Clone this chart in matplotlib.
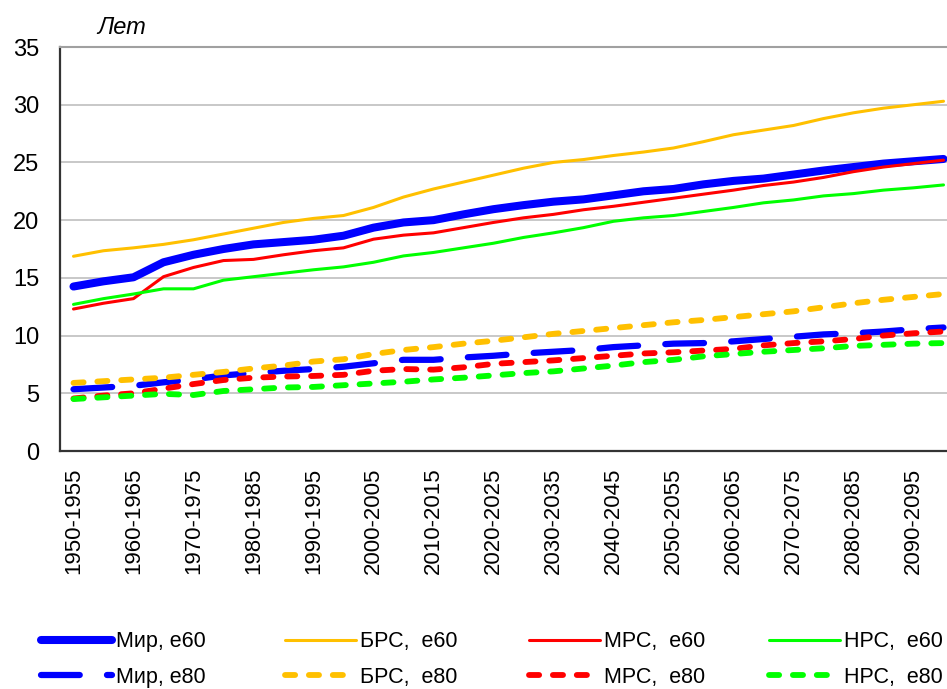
import matplotlib
matplotlib.use("Agg")
import matplotlib.pyplot as plt

plt.rcParams['font.family'] = ['Liberation Sans', 'DejaVu Sans']
plt.rcParams['lines.scale_dashes'] = False

periods = [f"{y}-{y+5}" for y in range(1950, 2100, 5)]

world_e60 = [14.25, 14.7, 15.05, 16.35, 17.0, 17.5, 17.9, 18.1, 18.3, 18.65,
             19.35, 19.8, 20.0, 20.5, 20.95, 21.3, 21.6, 21.8, 22.15, 22.5,
             22.7, 23.1, 23.4, 23.6, 23.95, 24.3, 24.6, 24.9, 25.1, 25.3]
more_e60 = [16.87, 17.35, 17.6, 17.9, 18.3, 18.8, 19.3, 19.8, 20.15, 20.4,
            21.1, 22.0, 22.7, 23.3, 23.9, 24.5, 25.0, 25.25, 25.6, 25.9,
            26.25, 26.8, 27.4, 27.8, 28.2, 28.8, 29.3, 29.7, 30.0, 30.3]
less_e60 = [12.3, 12.8, 13.2, 15.1, 15.9, 16.5, 16.6, 17.0, 17.35, 17.6,
            18.35, 18.7, 18.9, 19.35, 19.8, 20.2, 20.5, 20.9, 21.2, 21.55,
            21.9, 22.25, 22.6, 23.0, 23.3, 23.7, 24.2, 24.6, 24.9, 25.2]
least_e60 = [12.7, 13.2, 13.6, 14.05, 14.05, 14.8, 15.1, 15.4, 15.7, 15.95,
             16.35, 16.9, 17.2, 17.6, 18.0, 18.5, 18.9, 19.35, 19.9, 20.2,
             20.4, 20.75, 21.1, 21.5, 21.75, 22.1, 22.3, 22.6, 22.8, 23.05]

world_e80 = [5.35, 5.5, 5.65, 5.95, 6.2, 6.55, 6.75, 6.95, 7.1, 7.3,
             7.6, 7.9, 7.9, 8.1, 8.25, 8.45, 8.6, 8.75, 9.0, 9.15,
             9.3, 9.35, 9.5, 9.7, 9.9, 10.1, 10.2, 10.35, 10.55, 10.7]
more_e80 = [5.9, 6.05, 6.2, 6.35, 6.6, 6.85, 7.15, 7.4, 7.75, 7.95,
            8.4, 8.75, 9.0, 9.3, 9.55, 9.85, 10.15, 10.4, 10.65, 10.9,
            11.15, 11.35, 11.6, 11.85, 12.1, 12.45, 12.8, 13.1, 13.35, 13.6]
less_e80 = [4.55, 4.8, 5.0, 5.4, 5.8, 6.15, 6.35, 6.45, 6.5, 6.6,
            6.95, 7.1, 7.05, 7.25, 7.55, 7.7, 7.85, 8.05, 8.25, 8.45,
            8.55, 8.7, 8.85, 9.15, 9.35, 9.5, 9.7, 10.0, 10.2, 10.35]
least_e80 = [4.5, 4.65, 4.8, 4.95, 4.85, 5.2, 5.35, 5.5, 5.55, 5.7,
             5.85, 6.0, 6.2, 6.35, 6.55, 6.75, 6.9, 7.15, 7.4, 7.7,
             7.9, 8.2, 8.4, 8.6, 8.75, 8.9, 9.1, 9.2, 9.3, 9.35]

labels_e60 = ["Мир, е60", "БРС,  е60", "МРС,  е60", "НРС,  е60"]
labels_e80 = ["Мир, е80", "БРС,  е80", "МРС,  е80", "НРС,  е80"]
colors = ["#0000FF", "#FFC000", "#FF0000", "#00FF00"]

W, H = 947, 689
fig = plt.figure(figsize=(W / 100, H / 100), dpi=100)
L, B, T = 60, 451, 47
xmin, xmax = -0.45, 29.55
ax = fig.add_axes([L / W, (H - B) / H, 30 * (xmax - xmin) / W, (B - T) / H])

x = list(range(len(periods)))
e60 = [world_e60, more_e60, less_e60, least_e60]
e80 = [world_e80, more_e80, less_e80, least_e80]
lw60 = [5.8, 2.2, 2.2, 2.2]

h60, h80 = [], []
for i in range(4):
    ln, = ax.plot(x, e60[i], color=colors[i], lw=lw60[i], solid_capstyle='round',
                  solid_joinstyle='round', label=labels_e60[i], zorder=3)
    h60.append(ln)
for i in range(4):
    if i == 0:
        dashes = (27.9, 19.6)
        lw = 4.5
    else:
        dashes = (7.3, 9.9)
        lw = 4.2
    ln, = ax.plot(x, e80[i], color=colors[i], lw=lw, dashes=dashes,
                  dash_capstyle='round', dash_joinstyle='round',
                  label=labels_e80[i], zorder=3)
    h80.append(ln)

ax.set_xlim(xmin, xmax)
ax.set_ylim(0, 35)
ax.set_yticks(range(0, 36, 5))
ax.yaxis.grid(True, color="#c4c4c4", lw=1.3)
ax.set_axisbelow(True)
ax.set_xticks(x[::2])
ax.set_xticklabels(periods[::2], rotation=90, fontsize=16)
ax.tick_params(axis='x', length=0, pad=12)
ax.tick_params(axis='y', length=0, pad=15, labelsize=17)
ax.spines['left'].set_color('#333333')
ax.spines['left'].set_linewidth(1.6)
ax.spines['bottom'].set_color('#333333')
ax.spines['bottom'].set_linewidth(1.6)
ax.spines['top'].set_color('#a0a0a0')
ax.spines['top'].set_linewidth(1.5)
ax.spines['right'].set_visible(False)

fig.text(97 / W, 1 - 27 / H, "Лет", fontsize=17, style='italic', va='center', ha='left')

col_x = [41, 285, 529, 769]
for i in range(4):
    fig.legend([h60[i], h80[i]], [labels_e60[i], labels_e80[i]],
               loc='center left', bbox_to_anchor=(col_x[i] / W, (H - 659.5) / H),
               frameon=False, fontsize=15.5, handlelength=3.3, handletextpad=0.2,
               borderpad=0, borderaxespad=0, labelspacing=0.68)

fig.savefig("out.png", dpi=100)
